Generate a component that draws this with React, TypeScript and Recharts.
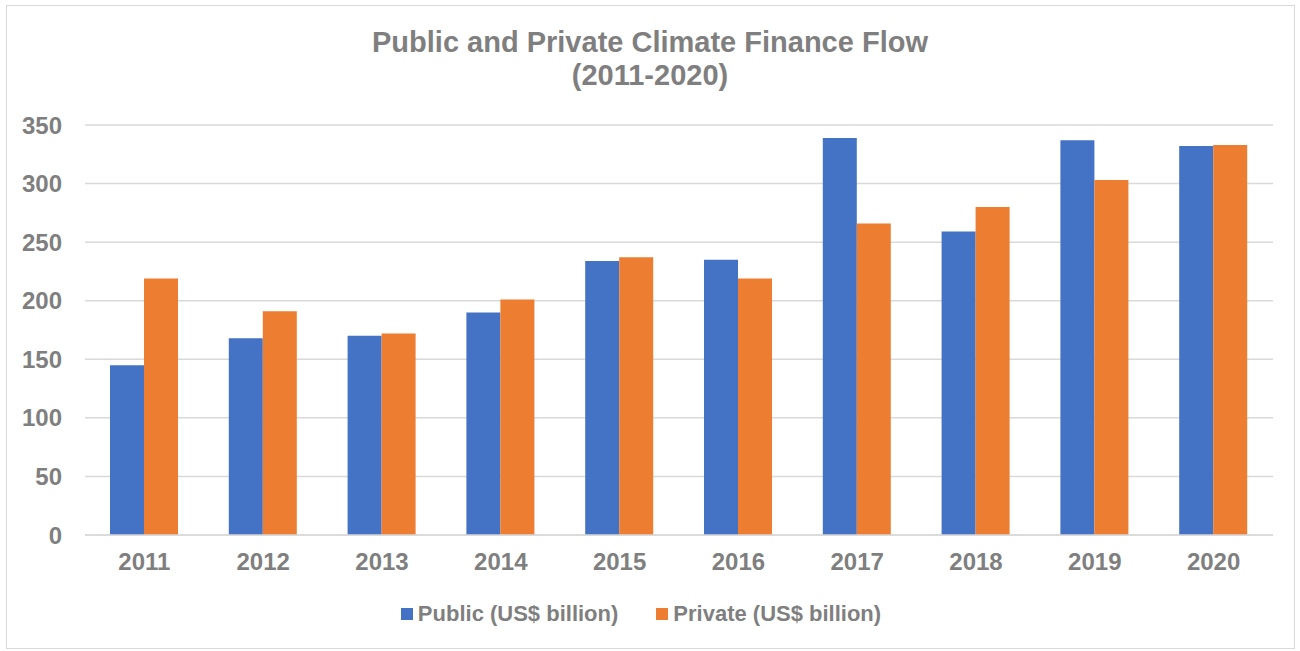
import React from "react";
import { BarChart, Bar, XAxis, YAxis, CartesianGrid } from "recharts";

const years = ["2011", "2012", "2013", "2014", "2015", "2016", "2017", "2018", "2019", "2020"];
const publicValues = [145, 168, 170, 190, 234, 235, 339, 259, 337, 332];
const privateValues = [219, 191, 172, 201, 237, 219, 266, 280, 303, 333];
const yTicks = [0, 50, 100, 150, 200, 250, 300, 350];

const seriesNames = ["Public (US$ billion)", "Private (US$ billion)"];
const colors = ["#4472C4", "#ED7D31"];

const data = years.map((y, i) => ({ year: y, pub: publicValues[i], priv: privateValues[i] }));

const textColor = "#7f7f7f";
const font = "'Liberation Sans', Arial, sans-serif";

export default function App() {
  return (
    <div style={{ position: "absolute", left: 0, top: 0, width: 1300, height: 651, background: "#fff", fontFamily: font }}>
      <div style={{ position: "absolute", left: 6, top: 5, width: 1289, height: 644, border: "1px solid #d9d9d9", boxSizing: "border-box" }} />
      <div style={{ position: "absolute", left: 0, top: 26, width: 1300, textAlign: "center", color: textColor, fontWeight: 700, fontSize: 29, lineHeight: "33px" }}>
        <div>Public and Private Climate Finance Flow</div>
        <div>(2011-2020)</div>
      </div>
      <div style={{ position: "absolute", left: 0, top: 0 }}>
        <BarChart width={1300} height={651} data={data} margin={{ top: 125, right: 27, bottom: 0, left: 25 }} barGap={0} barSize={34}>
          <CartesianGrid vertical={false} stroke="#d9d9d9" strokeWidth={1.5} />
          <XAxis dataKey="year" axisLine={{ stroke: "#d9d9d9", strokeWidth: 1.5 }} tickLine={false} tickSize={0} tickMargin={18}
            tick={{ fill: textColor, fontSize: 24, fontWeight: 700, fontFamily: font }} height={116} />
          <YAxis domain={[0, 350]} ticks={yTicks} width={60} axisLine={false} tickLine={false} tickSize={0} tickMargin={23}
            tick={{ fill: textColor, fontSize: 24, fontWeight: 700, fontFamily: font }} />
          <Bar dataKey="pub" name={seriesNames[0]} fill={colors[0]} isAnimationActive={false} />
          <Bar dataKey="priv" name={seriesNames[1]} fill={colors[1]} isAnimationActive={false} />
        </BarChart>
      </div>
      <div style={{ position: "absolute", left: 0, top: 599, width: 1282, display: "flex", justifyContent: "center", alignItems: "center", fontWeight: 700, fontSize: 22, lineHeight: "30px", color: textColor }}>
        {seriesNames.map((n, i) => (
          <div key={n} style={{ display: "flex", alignItems: "center", marginRight: i === 0 ? 38 : 0 }}>
            <span style={{ width: 12, height: 12, background: colors[i], display: "inline-block", marginRight: 5 }} />
            <span>{n}</span>
          </div>
        ))}
      </div>
    </div>
  );
}
